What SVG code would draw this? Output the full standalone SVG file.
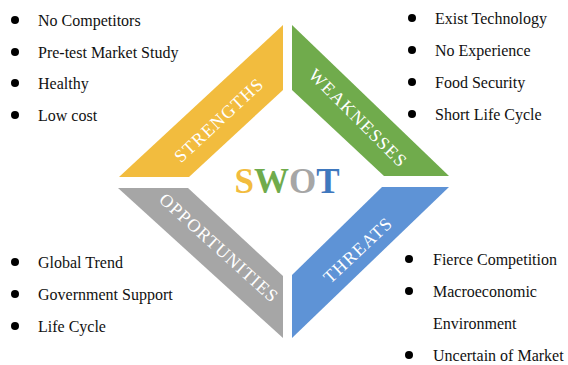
<svg xmlns="http://www.w3.org/2000/svg" width="568" height="365" viewBox="0 0 568 365">
  <style>
    .band-label { font-family: "Liberation Serif", "Times New Roman", serif; font-size: 18px; fill: #ffffff; letter-spacing: 1.2px; text-anchor: middle; }
    .item { font-family: "Liberation Serif", "Times New Roman", serif; font-size: 16px; fill: #111111; }
    .dot { fill: #000000; }
    .swot { font-family: "Liberation Serif", "Times New Roman", serif; font-size: 35px; font-weight: bold; }
  </style>
  <rect width="568" height="365" fill="#ffffff"/>

  <!-- four bands of the diamond -->
  <g id="strengths">
    <polygon points="119,177 283,25 283,90 189,177" fill="#F2BC3E"/>
    <text class="band-label" transform="translate(219,120) rotate(-43)" y="6">STRENGTHS</text>
  </g>
  <g id="weaknesses">
    <polygon points="292,25 449,176 384,176 292,90" fill="#70AB4C"/>
    <text class="band-label" transform="translate(358,118) rotate(45)" y="6">WEAKNESSES</text>
  </g>
  <g id="opportunities">
    <polygon points="118,188 188,188 283,276 283,338" fill="#A6A6A6"/>
    <text class="band-label" transform="translate(219,248) rotate(42)" y="6">OPPORTUNITIES</text>
  </g>
  <g id="threats">
    <polygon points="382,187 449,187 292,338 292,275" fill="#5E93D6"/>
    <text class="band-label" transform="translate(358,250) rotate(-43)" y="6">THREATS</text>
  </g>

  <!-- centre title -->
  <g id="title">
    <text class="swot" x="287" y="193" text-anchor="middle"><tspan fill="#F2BC3E">S</tspan><tspan fill="#70AB4C">W</tspan><tspan fill="#A6A6A6">O</tspan><tspan fill="#3F78BE">T</tspan></text>
  </g>

  <!-- strengths list -->
  <g id="list-strengths">
    <circle class="dot" cx="15" cy="20" r="4"/>
    <text class="item" x="38" y="26">No Competitors</text>
    <circle class="dot" cx="15" cy="52" r="4"/>
    <text class="item" x="38" y="57.5">Pre-test Market Study</text>
    <circle class="dot" cx="15" cy="83" r="4"/>
    <text class="item" x="38" y="89">Healthy</text>
    <circle class="dot" cx="15" cy="115" r="4"/>
    <text class="item" x="38" y="120.5">Low cost</text>
  </g>

  <!-- weaknesses list -->
  <g id="list-weaknesses">
    <circle class="dot" cx="412" cy="18" r="4"/>
    <text class="item" x="435" y="23.5">Exist Technology</text>
    <circle class="dot" cx="412" cy="50" r="4"/>
    <text class="item" x="435" y="55.5">No Experience</text>
    <circle class="dot" cx="412" cy="82" r="4"/>
    <text class="item" x="435" y="87.5">Food Security</text>
    <circle class="dot" cx="412" cy="114" r="4"/>
    <text class="item" x="435" y="119.5">Short Life Cycle</text>
  </g>

  <!-- opportunities list -->
  <g id="list-opportunities">
    <circle class="dot" cx="15" cy="262" r="4"/>
    <text class="item" x="38" y="267.5">Global Trend</text>
    <circle class="dot" cx="15" cy="294" r="4"/>
    <text class="item" x="38" y="299.5">Government Support</text>
    <circle class="dot" cx="15" cy="326" r="4"/>
    <text class="item" x="38" y="331.5">Life Cycle</text>
  </g>

  <!-- threats list -->
  <g id="list-threats">
    <circle class="dot" cx="409" cy="259" r="4"/>
    <text class="item" x="433" y="264.5">Fierce Competition</text>
    <circle class="dot" cx="409" cy="291" r="4"/>
    <text class="item" x="433" y="296.5">Macroeconomic</text>
    <text class="item" x="433" y="328.5">Environment</text>
    <circle class="dot" cx="409" cy="355" r="4"/>
    <text class="item" x="433" y="360.5">Uncertain of Market</text>
  </g>
</svg>
